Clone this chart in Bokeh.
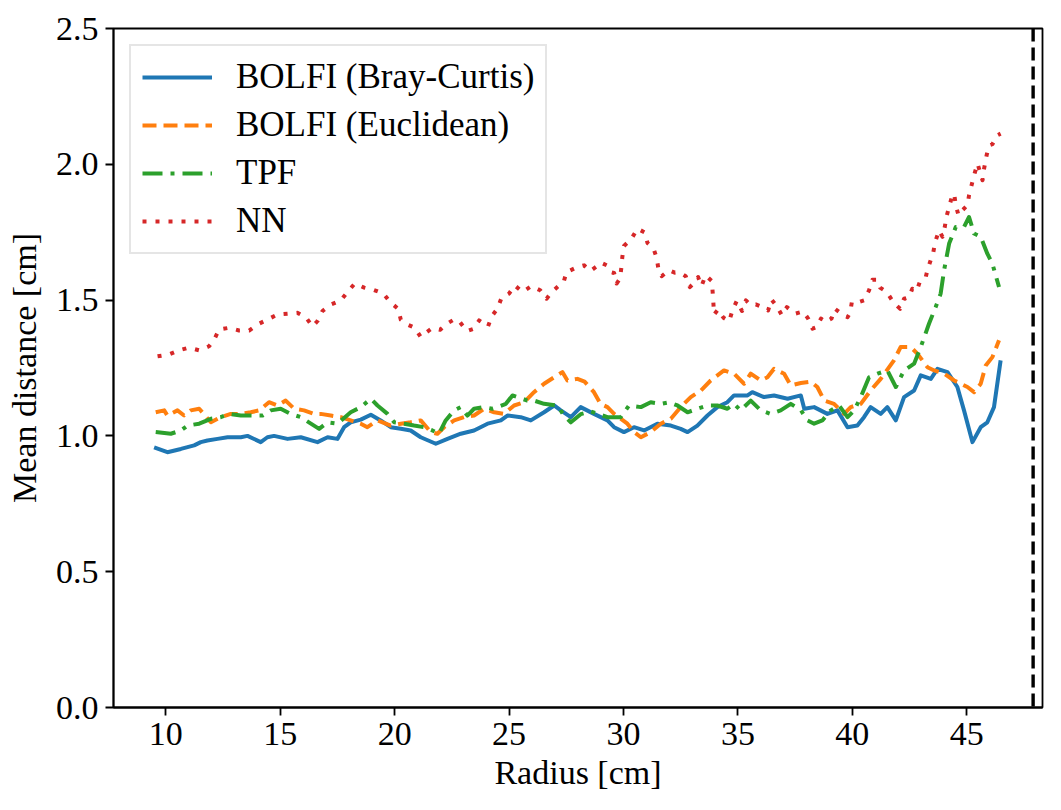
from bokeh.plotting import figure
from bokeh.models import Range1d, FixedTicker, PrintfTickFormatter, Span, Legend, LegendItem
from bokeh.embed import file_html
from bokeh.resources import INLINE

# ---------------- data ----------------
bc_x = [9.49, 10.07, 10.66, 11.24, 11.53, 11.82, 12.26, 12.7, 13.28, 13.57, 14.15, 14.44, 14.73,
        15.32, 15.9, 16.63, 17.07, 17.5, 17.79, 18.08, 18.52, 18.96, 19.39, 19.83, 20.27, 20.7,
        21.14, 21.8, 22.31, 22.89, 23.47, 24.06, 24.64, 24.93, 25.51, 25.95, 26.53, 26.97, 27.26,
        27.7, 28.13, 28.71, 29.3, 29.59, 30.02, 30.46, 30.9, 31.48, 32.07, 32.5, 32.8, 33.23,
        33.67, 34.1, 34.54, 34.83, 35.42, 35.63, 36.14, 36.58, 37.17, 37.75, 37.9, 38.33, 38.91,
        39.35, 39.79, 40.22, 40.51, 40.8, 41.24, 41.53, 41.9, 42.26, 42.7, 42.99, 43.43, 43.72,
        44.16, 44.59, 44.88, 45.25, 45.61, 45.9, 46.19, 46.48]
bc_y = [0.958, 0.94, 0.952, 0.965, 0.977, 0.983, 0.989, 0.995, 0.995, 1.0, 0.977, 0.995, 1.0,
        0.989, 0.995, 0.977, 0.995, 0.989, 1.032, 1.05, 1.06, 1.078, 1.057, 1.032, 1.026, 1.02,
        0.995, 0.971, 0.989, 1.008, 1.02, 1.045, 1.057, 1.075, 1.069, 1.057, 1.087, 1.112, 1.094,
        1.069, 1.106, 1.081, 1.057, 1.032, 1.014, 1.032, 1.02, 1.045, 1.038, 1.026, 1.014, 1.038,
        1.075, 1.106, 1.124, 1.149, 1.149, 1.161, 1.143, 1.149, 1.137, 1.149, 1.1, 1.106, 1.081,
        1.094, 1.032, 1.038, 1.069, 1.106, 1.081, 1.106, 1.057, 1.143, 1.167, 1.223, 1.21, 1.247,
        1.235, 1.18, 1.094, 0.977, 1.032, 1.05, 1.106, 1.278]

eu_x = [9.56, 9.93, 10.07, 10.51, 10.8, 11.09, 11.46, 11.97, 12.4, 12.84, 13.28, 13.71, 14.08,
        14.51, 14.88, 15.24, 15.61, 16.04, 16.48, 16.77, 17.21, 17.65, 18.08, 18.52, 18.81, 19.25,
        19.83, 20.27, 20.7, 21.14, 21.58, 21.87, 22.16, 22.6, 23.03, 23.47, 23.91, 24.35, 24.78,
        25.22, 25.66, 26.09, 26.53, 26.97, 27.33, 27.55, 27.99, 28.3, 28.71, 29.0, 29.3, 29.59,
        30.17, 30.46, 30.76, 31.19, 31.63, 32.07, 32.5, 32.94, 33.38, 33.81, 34.39, 34.83, 35.27,
        35.56, 36.0, 36.29, 36.58, 37.02, 37.31, 37.75, 38.18, 38.47, 38.77, 39.2, 39.64, 39.93,
        40.37, 40.8, 41.24, 41.82, 42.11, 42.55, 42.85, 43.28, 43.58, 44.01, 44.45, 44.74, 45.03,
        45.32, 45.61, 45.83, 46.12, 46.41]
eu_y = [1.087, 1.094, 1.075, 1.094, 1.075, 1.094, 1.1, 1.05, 1.069, 1.081, 1.081, 1.087, 1.094,
        1.124, 1.112, 1.13, 1.1, 1.094, 1.081, 1.081, 1.075, 1.069, 1.057, 1.045, 1.032, 1.057,
        1.038, 1.045, 1.05, 1.057, 1.014, 1.008, 1.032, 1.057, 1.069, 1.075, 1.1, 1.087, 1.081,
        1.112, 1.124, 1.161, 1.192, 1.216, 1.235, 1.204, 1.21, 1.2, 1.161, 1.118, 1.106, 1.081,
        1.045, 1.014, 0.995, 1.014, 1.045, 1.063, 1.106, 1.143, 1.167, 1.204, 1.241, 1.229, 1.192,
        1.229, 1.204, 1.216, 1.247, 1.229, 1.186, 1.195, 1.2, 1.18, 1.13, 1.118, 1.081, 1.106,
        1.118, 1.167, 1.21, 1.278, 1.327, 1.327, 1.302, 1.253, 1.241, 1.229, 1.204, 1.192, 1.18,
        1.161, 1.192, 1.259, 1.29, 1.352]

tpf_x = [9.56, 10.22, 10.66, 10.95, 11.46, 11.97, 12.4, 12.77, 13.28, 13.71, 14.23, 14.59, 15.02,
         15.46, 15.9, 16.34, 16.7, 17.07, 17.5, 18.08, 18.52, 18.96, 19.25, 19.69, 19.98, 20.41,
         20.85, 21.29, 21.65, 21.94, 22.23, 22.6, 22.89, 23.18, 23.47, 23.91, 24.27, 24.49, 24.86,
         25.15, 25.37, 25.8, 26.09, 26.53, 27.11, 27.4, 27.7, 28.13, 28.57, 29.3, 29.88, 30.24,
         30.76, 31.19, 31.63, 31.99, 32.36, 32.8, 33.23, 33.67, 34.1, 34.54, 34.83, 35.12, 35.56,
         36.0, 36.43, 36.87, 37.31, 37.75, 38.04, 38.33, 38.69, 39.06, 39.42, 39.79, 40.08, 40.37,
         40.73, 41.1, 41.53, 41.9, 42.26, 42.7, 42.99, 43.35, 43.64, 43.86, 44.01, 44.23, 44.52,
         44.88, 45.1, 45.32, 45.61, 45.9, 46.12, 46.41]
tpf_y = [1.014, 1.008, 1.02, 1.038, 1.045, 1.063, 1.069, 1.081, 1.075, 1.075, 1.075, 1.094, 1.1,
         1.081, 1.069, 1.045, 1.026, 1.05, 1.045, 1.087, 1.106, 1.137, 1.112, 1.081, 1.05, 1.045,
         1.038, 1.032, 1.02, 1.008, 1.057, 1.094, 1.106, 1.075, 1.1, 1.106, 1.1, 1.106, 1.118,
         1.149, 1.143, 1.13, 1.13, 1.118, 1.112, 1.075, 1.05, 1.08, 1.09, 1.069, 1.069, 1.112,
         1.106, 1.124, 1.118, 1.124, 1.112, 1.087, 1.1, 1.112, 1.112, 1.1, 1.118, 1.094, 1.13,
         1.094, 1.081, 1.094, 1.118, 1.095, 1.057, 1.045, 1.057, 1.094, 1.112, 1.069, 1.094, 1.143,
         1.216, 1.229, 1.241, 1.18, 1.241, 1.266, 1.327, 1.413, 1.474, 1.524, 1.61, 1.708, 1.769,
         1.769, 1.806, 1.745, 1.733, 1.671, 1.634, 1.548]

nn_x = [9.64, 10.15, 10.58, 11.02, 11.46, 11.89, 12.11, 12.33, 12.77, 13.2, 13.64, 14.0, 14.44,
        14.88, 15.32, 15.75, 16.12, 16.41, 16.63, 16.85, 17.21, 17.65, 17.94, 18.26, 18.67, 19.07,
        19.51, 19.8, 20.15, 20.27, 20.56, 20.88, 21.14, 21.4, 21.65, 21.99, 22.28, 22.63, 22.86,
        23.16, 23.47, 23.69, 24.08, 24.24, 24.49, 24.67, 25.0, 25.25, 25.59, 25.98, 26.36, 26.64,
        26.87, 27.19, 27.38, 27.51, 27.84, 28.1, 28.28, 28.55, 28.83, 29.01, 29.27, 29.45, 29.59,
        29.7, 29.85, 29.91, 29.95, 30.02, 30.35, 30.61, 30.93, 31.05, 31.31, 31.45, 31.53, 31.67,
        31.99, 32.24, 32.43, 32.72, 32.9, 33.08, 33.26, 33.41, 33.59, 33.86, 33.9, 33.93, 33.96,
        34.13, 34.37, 34.62, 34.76, 34.95, 35.18, 35.35, 35.57, 35.78, 36.12, 36.32, 36.47, 36.7,
        36.92, 37.14, 37.5, 37.85, 38.07, 38.26, 38.45, 38.63, 38.8, 39.09, 39.24, 39.62, 39.79,
        39.9, 39.98, 40.22, 40.51, 40.73, 40.88, 41.07, 41.21, 41.5, 41.82, 42.09, 42.26, 42.48,
        42.62, 42.81, 42.96, 43.21, 43.28, 43.54, 43.62, 43.79, 43.94, 44.04, 44.11, 44.33, 44.45,
        44.52, 44.64, 44.81, 45.03, 45.1, 45.21, 45.32, 45.47, 45.69, 45.76, 45.87, 45.98, 46.12,
        46.34, 46.48]
nn_y = [1.293, 1.3, 1.315, 1.325, 1.315, 1.33, 1.354, 1.392, 1.398, 1.388, 1.388, 1.41, 1.428,
        1.447, 1.45, 1.453, 1.437, 1.403, 1.423, 1.46, 1.484, 1.499, 1.53, 1.561, 1.546, 1.538,
        1.524, 1.493, 1.468, 1.428, 1.41, 1.398, 1.364, 1.382, 1.397, 1.391, 1.413, 1.43, 1.418,
        1.386, 1.395, 1.425, 1.403, 1.44, 1.468, 1.508, 1.524, 1.554, 1.53, 1.552, 1.536, 1.505,
        1.53, 1.554, 1.565, 1.603, 1.616, 1.624, 1.628, 1.607, 1.624, 1.638, 1.628, 1.603, 1.6,
        1.561, 1.579, 1.622, 1.659, 1.699, 1.726, 1.763, 1.749, 1.71, 1.69, 1.656, 1.613, 1.588,
        1.61, 1.601, 1.603, 1.588, 1.548, 1.563, 1.585, 1.552, 1.591, 1.57, 1.526, 1.487, 1.447,
        1.465, 1.435, 1.422, 1.462, 1.497, 1.46, 1.499, 1.481, 1.484, 1.472, 1.462, 1.502, 1.477,
        1.444, 1.474, 1.45, 1.458, 1.432, 1.395, 1.401, 1.432, 1.419, 1.432, 1.468, 1.444, 1.437,
        1.452, 1.493, 1.491, 1.499, 1.536, 1.575, 1.575, 1.546, 1.53, 1.489, 1.468, 1.505, 1.511,
        1.542, 1.533, 1.57, 1.585, 1.61, 1.677, 1.714, 1.757, 1.733, 1.769, 1.806, 1.874, 1.892,
        1.849, 1.812, 1.831, 1.849, 1.886, 1.923, 1.96, 2.003, 1.941, 1.985, 2.034, 2.07, 2.074,
        2.107, 2.113]

vline_x = 47.9
x_ticks = [10, 15, 20, 25, 30, 35, 40, 45]
y_ticks = [0.0, 0.5, 1.0, 1.5, 2.0, 2.5]
labels = ["BOLFI (Bray-Curtis)", "BOLFI (Euclidean)", "TPF", "NN"]

# ---------------- figure ----------------
FONT = "Liberation Serif"
FS = "34px"

p = figure(width=1045, height=794, output_backend="svg", toolbar_location=None,
           x_range=Range1d(7.715, 48.31), y_range=Range1d(0, 2.5),
           min_border_left=113, min_border_right=3, min_border_top=28, min_border_bottom=87)
p.background_fill_color = "white"
p.border_fill_color = "white"
p.xgrid.visible = False
p.ygrid.visible = False
p.outline_line_color = "black"
p.outline_line_width = 1.8
p.outline_line_alpha = 1.0

p.xaxis.ticker = FixedTicker(ticks=x_ticks)
p.yaxis.ticker = FixedTicker(ticks=y_ticks)
p.yaxis.formatter = PrintfTickFormatter(format="%.1f")
p.xaxis.axis_label = "Radius [cm]"
p.yaxis.axis_label = "Mean distance [cm]"
for ax in (p.xaxis[0], p.yaxis[0]):
    ax.axis_line_color = "black"
    ax.axis_line_width = 1.8
    ax.major_tick_line_color = "black"
    ax.major_tick_line_width = 1.8
    ax.major_tick_out = 8
    ax.major_tick_in = 0
    ax.minor_tick_line_color = None
    ax.major_label_standoff = 7
    ax.major_label_text_font = FONT
    ax.major_label_text_font_size = FS
    ax.major_label_text_color = "black"
    ax.axis_label_text_font = FONT
    ax.axis_label_text_font_size = FS
    ax.axis_label_text_font_style = "normal"
    ax.axis_label_text_color = "black"
p.xaxis[0].axis_label_standoff = 6
p.yaxis[0].axis_label_standoff = 10

common = dict(line_width=4, line_join="round")
r_bc = p.line(bc_x, bc_y, line_color="#1f77b4", **common)
r_eu = p.line(eu_x, eu_y, line_color="#ff7f0e", line_dash="14 7", **common)
r_tpf = p.line(tpf_x, tpf_y, line_color="#2ca02c", line_dash="20 8 4 8", **common)
r_nn = p.line(nn_x, nn_y, line_color="#d62728", line_dash="4 9", **common)

p.add_layout(Span(location=vline_x, dimension="height", line_color="black",
                  line_width=3.4, line_dash="13 6"))

legend = Legend(items=[LegendItem(label=labels[0], renderers=[r_bc]),
                       LegendItem(label=labels[1], renderers=[r_eu]),
                       LegendItem(label=labels[2], renderers=[r_tpf]),
                       LegendItem(label=labels[3], renderers=[r_nn])],
                location="top_left")
legend.margin = 16
legend.padding = 11
legend.spacing = 8
legend.label_height = 40
legend.glyph_height = 40
legend.glyph_width = 70
legend.label_standoff = 24
legend.label_text_font = FONT
legend.label_text_font_size = "35px"
legend.label_text_color = "black"
legend.border_line_color = "#cccccc"
legend.border_line_width = 2
legend.background_fill_color = "white"
legend.background_fill_alpha = 0.8
p.add_layout(legend)

open("out.html", "w").write(file_html(p, INLINE))
